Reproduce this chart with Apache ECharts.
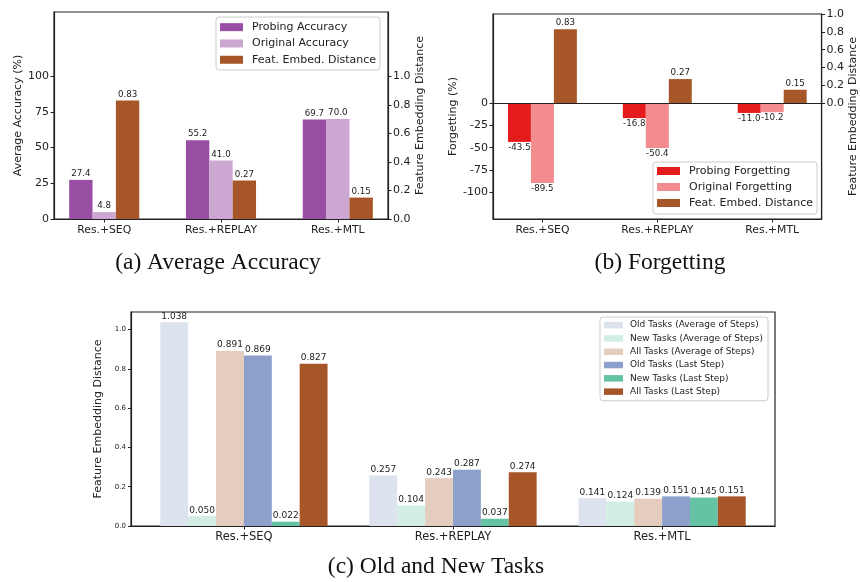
<!DOCTYPE html>
<html>
<head>
<meta charset="utf-8">
<script src="https://cdn.jsdelivr.net/npm/echarts@6/dist/echarts.min.js"></script>
<style>
html,body{margin:0;padding:0;background:#fff;}
#chart{width:860px;height:582px;}
</style>
</head>
<body>
<div id="chart"></div>
<script>
// ---- data ----
const categories = ['Res.+SEQ', 'Res.+REPLAY', 'Res.+MTL'];
// (a) Average Accuracy
const probingAcc = [27.4, 55.2, 69.7];
const originalAcc = [4.8, 41.0, 70.0];
const featDist = [0.83, 0.27, 0.15];
// (b) Forgetting
const probingForget = [-43.5, -16.8, -11.0];
const originalForget = [-89.5, -50.4, -10.2];
// (c) Old and New Tasks
const oldAvg = [1.038, 0.257, 0.141];
const newAvg = [0.050, 0.104, 0.124];
const allAvg = [0.891, 0.243, 0.139];
const oldLast = [0.869, 0.287, 0.151];
const newLast = [0.022, 0.037, 0.145];
const allLast = [0.827, 0.274, 0.151];
// tick labels
const accTicks = [0, 25, 50, 75, 100];
const forgetTicks = [-100, -75, -50, -25, 0];
const distTicks = [0, 0.2, 0.4, 0.6, 0.8, 1.0];
const catTicks = [0, 1, 2];

const FONT = 'DejaVu Sans';
const INK = '#222222';
const C = {
  probAcc: '#984ea3', origAcc: '#cca7d1', feat: '#a65628',
  probF: '#e41a1c', origF: '#f28c8e',
  oldAvg: '#dde2ef', newAvg: '#d1ede4', allAvg: '#e4ccbe',
  oldLast: '#8da0cb', newLast: '#66c2a5', allLast: '#a65628'
};

const toPts = arr => arr.map((v, i) => [i, v]);

function xAxisFor(grid, min, max, fontSize, margin) {
  return {
    type: 'value', gridIndex: grid, min: min, max: max,
    splitLine: {show: false},
    axisLine: {show: true, onZero: false, lineStyle: {color: INK, width: 1.2}},
    axisTick: {show: true, customValues: catTicks, length: 3.5, lineStyle: {color: INK, width: 1}},
    axisLabel: {show: true, customValues: catTicks, formatter: v => categories[Math.round(v)],
      fontSize: fontSize, fontFamily: FONT, color: INK, margin: margin},
    z: 5
  };
}
function yAxisFor(grid, pos, min, max, ticks, fmt, name, nameGap, opt) {
  opt = opt || {};
  return {
    type: 'value', gridIndex: grid, position: pos, min: min, max: max,
    splitLine: {show: false},
    axisLine: {show: true, onZero: false, lineStyle: {color: INK, width: 1.2}},
    axisTick: {show: true, customValues: ticks, length: opt.tickLen || 3.5, lineStyle: {color: INK, width: 1}},
    axisLabel: {show: true, customValues: ticks, formatter: fmt, fontSize: opt.fontSize || 11,
      fontFamily: FONT, color: INK, margin: opt.margin || 5},
    name: name, nameLocation: 'middle', nameRotate: 90, nameGap: nameGap,
    nameTextStyle: {fontSize: opt.nameSize || 11, fontFamily: FONT, color: INK},
    z: 5
  };
}
function barSeries(name, xi, yi, arr, color, width, digits, pos, labelSize, extra) {
  const s = {
    type: 'bar', name: name, xAxisIndex: xi, yAxisIndex: yi,
    data: toPts(arr), barWidth: width, barGap: '0%',
    itemStyle: {color: color},
    label: {show: true, position: pos, distance: 1.5, fontSize: labelSize, fontFamily: FONT, color: INK,
      formatter: p => p.value[1].toFixed(digits)},
    emphasis: {disabled: true}
  };
  return Object.assign(s, extra || {});
}
function legendFor(left, top, names, iw, ih, fs, lh, padLeft, padding) {
  return {
    left: left, top: top, orient: 'vertical', data: names, icon: 'rect',
    itemWidth: iw, itemHeight: ih, itemGap: 0, padding: padding,
    backgroundColor: 'rgba(255,255,255,0.85)', borderColor: '#cccccc', borderWidth: 1, borderRadius: 3,
    selectedMode: false,
    textStyle: {fontSize: fs, fontFamily: FONT, color: INK, lineHeight: lh, padding: [0, 0, 0, padLeft]}
  };
}
const f1 = v => v.toFixed(1);
const f0 = v => String(Math.round(v));

const option = {
  animation: false,
  backgroundColor: '#ffffff',
  grid: [
    {left: 54, top: 12, width: 334, height: 207, show: true, borderColor: INK, borderWidth: 1.2, backgroundColor: 'transparent'},
    {left: 493, top: 14, width: 332, height: 205, show: true, borderColor: INK, borderWidth: 1.2, backgroundColor: 'transparent'},
    {left: 131, top: 312, width: 644, height: 214, show: true, borderColor: INK, borderWidth: 1.2, backgroundColor: 'transparent'}
  ],
  xAxis: [
    xAxisFor(0, -0.43, 2.43, 10.8, 6),
    xAxisFor(1, -0.43, 2.43, 10.8, 6),
    xAxisFor(2, -0.54, 2.54, 11.5, 5)
  ],
  yAxis: [
    yAxisFor(0, 'left', 0, 145, accTicks, f0, 'Average Accuracy (%)', 30),
    yAxisFor(0, 'right', 0, 1.45, distTicks, f1, 'Feature Embedding Distance', 25),
    yAxisFor(1, 'left', -130, 100, forgetTicks, f0, 'Forgetting (%)', 33),
    yAxisFor(1, 'right', -1.3, 1.0, distTicks, f1, 'Feature Embedding Distance', 23.5),
    yAxisFor(2, 'left', 0, 1.09, distTicks, f1, 'Feature Embedding Distance', 22,
      {fontSize: 7, nameSize: 11, tickLen: 3, margin: 5})
  ],
  legend: [
    legendFor(216, 17, ['Probing Accuracy', 'Original Accuracy', 'Feat. Embed. Distance'], 23, 8, 11, 16.3, 4, [2, 4, 2, 4]),
    legendFor(653, 162, ['Probing Forgetting', 'Original Forgetting', 'Feat. Embed. Distance'], 23, 8, 11, 16, 4, [1, 4, 3, 4]),
    legendFor(600, 317, ['Old Tasks (Average of Steps)', 'New Tasks (Average of Steps)', 'All Tasks (Average of Steps)',
      'Old Tasks (Last Step)', 'New Tasks (Last Step)', 'All Tasks (Last Step)'], 19, 6.5, 9, 13.3, 2, [1.5, 5, 2.5, 4])
  ],
  series: [
    barSeries('Probing Accuracy', 0, 0, probingAcc, C.probAcc, '20%', 1, 'top', 8.7),
    barSeries('Original Accuracy', 0, 0, originalAcc, C.origAcc, '20%', 1, 'top', 8.7),
    barSeries('Feat. Embed. Distance', 0, 1, featDist, C.feat, '20%', 2, 'top', 8.7),

    barSeries('Probing Forgetting', 1, 2, probingForget, C.probF, '20%', 1, 'bottom', 8.7, {
      markLine: {silent: true, symbol: 'none', label: {show: false}, lineStyle: {color: INK, width: 1.2, type: 'solid'},
        emphasis: {disabled: true}, data: [{yAxis: 0}]}
    }),
    barSeries('Original Forgetting', 1, 2, originalForget, C.origF, '20%', 1, 'bottom', 8.7),
    barSeries('Feat. Embed. Distance', 1, 3, featDist, C.feat, '20%', 2, 'top', 8.7),

    barSeries('Old Tasks (Average of Steps)', 2, 4, oldAvg, C.oldAvg, '13.333%', 3, 'top', 9),
    barSeries('New Tasks (Average of Steps)', 2, 4, newAvg, C.newAvg, '13.333%', 3, 'top', 9),
    barSeries('All Tasks (Average of Steps)', 2, 4, allAvg, C.allAvg, '13.333%', 3, 'top', 9),
    barSeries('Old Tasks (Last Step)', 2, 4, oldLast, C.oldLast, '13.333%', 3, 'top', 9),
    barSeries('New Tasks (Last Step)', 2, 4, newLast, C.newLast, '13.333%', 3, 'top', 9),
    barSeries('All Tasks (Last Step)', 2, 4, allLast, C.allLast, '13.333%', 3, 'top', 9)
  ],
  graphic: [
    {type: 'text', x: 218, y: 263, style: {text: '(a) Average Accuracy', fontSize: 23.5, fontFamily: 'Liberation Serif', fill: '#111', align: 'center', verticalAlign: 'middle'}},
    {type: 'text', x: 660, y: 263, style: {text: '(b) Forgetting', fontSize: 23.5, fontFamily: 'Liberation Serif', fill: '#111', align: 'center', verticalAlign: 'middle'}},
    {type: 'text', x: 436, y: 567, style: {text: '(c) Old and New Tasks', fontSize: 23.5, fontFamily: 'Liberation Serif', fill: '#111', align: 'center', verticalAlign: 'middle'}}
  ]
};

const chart = echarts.init(document.getElementById('chart'), null, {renderer: 'canvas'});
chart.setOption(option);
</script>
</body>
</html>
